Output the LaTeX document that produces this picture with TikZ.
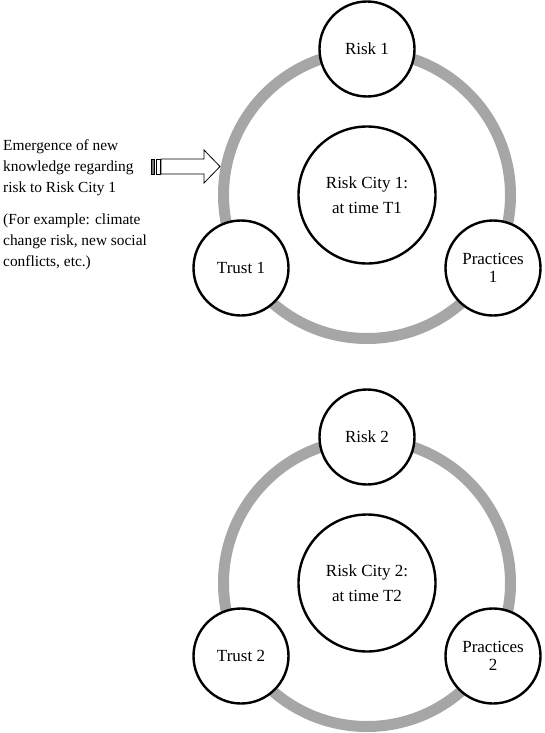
\documentclass[tikz,border=0pt]{standalone}
\usepackage{fontspec}
\setmainfont{Liberation Serif}
\usepackage{tikz}
\usepackage{xcolor}
\definecolor{ringgray}{HTML}{A6A6A6}

\tikzset{
  ring/.style={draw=ringgray, line width=11pt},
  small/.style={circle, draw, line width=2.4pt, fill=white, minimum size=95pt,
    inner sep=0pt, align=center, font=\fontsize{17}{18}\selectfont},
  city/.style={circle, draw, line width=2.4pt, fill=white, minimum size=137pt,
    inner sep=0pt, align=center, font=\fontsize{17}{25}\selectfont},
  note/.style={anchor=north west, inner sep=0pt, align=left,
    font=\fontsize{15.4}{21}\selectfont}
}

\begin{document}
\begin{tikzpicture}[x=1pt,y=-1pt]
        \useasboundingbox (0,0) rectangle (545,733);

        % city at time T1
        \draw[ring] (367,195) circle (143.5);
        \node[city] (city1) at (367,195) {Risk City 1:\\at time T1};
        \node[small] (risk1) at (367,49) {Risk 1};
        \node[small] (trust1) at (241,268) {Trust 1};
        \node[small] (practices1) at (493,268) {Practices\\1};

        % new knowledge coming in
        \node[note] (emergence) at (3,139.5) {Emergence of new\\knowledge regarding\\risk to Risk City 1};
        \node[note] (example) at (3,214) {(For example: climate\\change risk, new social\\conflicts, etc.)};
        \draw[fill=ringgray!70!black, line width=0.8pt] (151,159) rectangle (154.3,174);
        \draw[fill=white, line width=0.8pt] (156,159) rectangle (160,174);
        \draw[fill=white, line width=0.8pt] (161,159) -- (204,159) -- (204,150) -- (220,166.5)
            -- (204,183) -- (204,174) -- (161,174) -- cycle;

        % city at time T2
        \draw[ring] (367,583) circle (143.5);
        \node[city] (city2) at (367,583) {Risk City 2:\\at time T2};
        \node[small] (risk2) at (367,437) {Risk 2};
        \node[small] (trust2) at (241,656) {Trust 2};
        \node[small] (practices2) at (493,656) {Practices\\2};
\end{tikzpicture}
\end{document}
